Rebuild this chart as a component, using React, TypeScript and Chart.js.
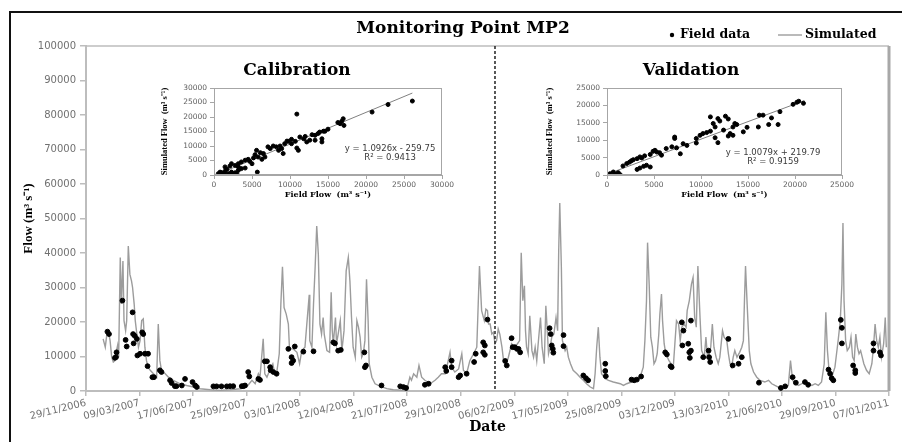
import React, { useEffect, useRef } from 'react';
import { Chart, registerables } from 'chart.js';

Chart.register(...registerables);

// ---------- main time series ----------
const mainTitle = 'Monitoring Point MP2';
const xTickLabels = [
  '29/11/2006', '09/03/2007', '17/06/2007', '25/09/2007', '03/01/2008', '12/04/2008',
  '21/07/2008', '29/10/2008', '06/02/2009', '17/05/2009', '25/08/2009', '03/12/2009',
  '13/03/2010', '21/06/2010', '29/09/2010', '07/01/2011',
];
const daysPerTick = 100; // tick labels are 100 days apart, day 0 = 29/11/2006
const splitDay = 764; // 01/01/2009 : calibration | validation

// simulated flow (day since 29/11/2006, m3/s)
const simDay = [
  32, 36, 39, 42, 45, 48, 51, 54, 57, 59, 61, 64, 66, 69, 71, 74, 76, 79, 82, 85, 87, 90, 92, 95, 98,
  101, 104, 107, 110, 113, 116, 120, 126, 132, 135, 138, 141, 148, 154, 163, 176, 188, 201, 213, 232,
  250, 269, 288, 300, 310, 316, 322, 325, 331, 334, 338, 344, 349, 352, 356, 361, 364, 367, 370, 374,
  378, 380, 382, 387, 394, 399, 403, 409, 413, 417, 418, 422, 425, 428, 431, 434, 437, 440, 443, 445,
  450, 455, 458, 460, 462, 466, 468, 471, 475, 478, 482, 486, 490, 493, 496, 499, 503, 506, 509, 512,
  515, 518, 521, 524, 527, 529, 534, 540, 549, 562, 574, 593, 599, 602, 605, 608, 612, 618, 622, 627,
  633, 643, 652, 658, 664, 671, 674, 680, 683, 689, 696, 702, 705, 711, 717, 724, 730, 735, 739, 744,
  747, 750, 752, 755, 758, 761, 764, 767, 770, 773, 777, 780, 785, 789, 795, 801, 806, 810, 813, 816,
  819, 821, 823, 826, 829, 833, 836, 839, 842, 846, 849, 852, 856, 859, 862, 864, 867, 870, 874, 878,
  881, 883, 885, 888, 890, 895, 898, 901, 905, 910, 917, 923, 929, 935, 942, 948, 951, 954, 957, 960,
  963, 970, 976, 985, 998, 1004, 1010, 1019, 1029, 1035, 1041, 1044, 1047, 1049, 1052, 1055, 1058,
  1061, 1064, 1067, 1070, 1072, 1075, 1077, 1080, 1083, 1086, 1089, 1093, 1097, 1100, 1103, 1107,
  1110, 1113, 1117, 1121, 1123, 1127, 1131, 1134, 1137, 1140, 1143, 1147, 1150, 1155, 1158, 1161,
  1164, 1167, 1170, 1173, 1177, 1181, 1184, 1189, 1192, 1197, 1200, 1203, 1206, 1209, 1212, 1216,
  1221, 1225, 1228, 1230, 1232, 1235, 1239, 1242, 1247, 1253, 1259, 1268, 1275, 1281, 1287, 1293,
  1300, 1306, 1312, 1316, 1320, 1325, 1331, 1337, 1343, 1349, 1356, 1362, 1368, 1374, 1379, 1382,
  1385, 1388, 1393, 1399, 1402, 1405, 1409, 1412, 1414, 1416, 1419, 1422, 1426, 1429, 1432, 1435,
  1438, 1441, 1444, 1447, 1450, 1453, 1458, 1463, 1468, 1471, 1474, 1477, 1480, 1483, 1486, 1490,
  1493, 1495,
];
const simFlow = [
  15100, 12700, 16500, 17000, 14600, 9800, 8400, 8800, 11700, 13200, 9800, 38700, 25200, 37700, 20400,
  17500, 20400, 42000, 33800, 31900, 30000, 25200, 20400, 16500, 12700,
  14600, 20400, 20900, 12700, 8800, 6900, 6000, 5000, 4000, 19400, 8800, 6000, 5000, 4000, 3100, 2100,
  1600, 1150, 670, 380,
  190, 380, 670, 1150, 3100, 2100, 5000, 4000, 15100, 5000, 4000, 6400, 7900, 5500, 5000, 10800, 25200,
  36000, 24200, 22300,
  19400, 12700, 12200, 12200, 11200, 7900, 11700, 12700, 20400, 27900, 14600, 12700, 25200, 35800, 47800,
  39600, 19400, 16500, 21300, 16500,
  11700, 11200, 28600, 17500, 13700, 21300, 13700, 16500, 20400, 11700, 17500, 34800, 38700, 31900, 21300,
  12700, 9800, 20400, 18500, 15600,
  9800, 10800, 14600, 32400, 20400, 7900, 4000, 2100, 1400, 670, 380, 190, 50, 2100, 4000, 3100, 5000,
  4000, 7400, 4000,
  3100, 2100, 3100, 4000, 5000, 5000, 6900, 11200, 6900, 5500, 6400, 10800, 6000, 5000, 8800, 10800, 12700,
  36200, 23300, 20400,
  23700, 23300, 19400, 19400, 16500, 17000, 13700, 14600, 18000, 16500, 12700, 8800, 7900, 9800, 13700,
  12700, 13700, 14600, 40100, 26200,
  30500, 17500, 12700, 10800, 21800, 11700, 9800, 12700, 8800, 16100, 21300, 12700, 7900, 24700, 16500,
  10800, 12700, 15600, 16500, 21300,
  17500, 40600, 54500, 35800, 14600, 11700, 12700, 9800, 7900, 6000, 5000, 4000, 3100, 2100, 1150, 670,
  5000, 12700, 18500, 9800,
  5000, 3600, 3100, 2600, 2100, 1600, 2100, 2600, 3100, 4000, 6900, 14600, 26200, 43000, 31000, 15600,
  12700,
  7900, 8800, 10800, 16500, 22300, 28100, 20400, 13700, 10800, 9800, 8800, 7900, 6900, 13700, 20400, 19400,
  14600, 18500, 19400, 18500, 23300, 26200, 31000, 32900, 21300, 18500, 36200, 21300, 11700, 9800, 15600,
  9800,
  10800, 12700, 19400, 12700, 9800, 7900, 9800, 17500, 15600, 14600, 10800, 7900, 6900, 9800, 11700, 9800,
  11200, 12700, 14600, 26200, 36200, 25200, 11700, 7900, 5500, 4000, 3100, 2600, 3100, 2100, 1600, 1150,
  670, 1150, 1600, 8800, 3100, 2100, 1600, 2100, 2600, 2100, 1600, 2100, 1600, 2600, 7900, 22800,
  11700, 6000, 4000, 6900, 10800, 14600, 20400, 31000, 48700, 26200, 14600, 11700, 12700, 15600, 9800, 8800,
  16500, 12700, 10800, 11700, 9800, 7900, 6000, 5000, 7900, 12700, 19400, 14600, 12700, 15600, 9800, 13700,
  21300, 12700,
];

// field data (day since 29/11/2006, m3/s)
const fieldDay = [
  40, 43, 54, 56, 57, 68, 74, 76, 87, 88, 89, 91, 95, 96, 101, 105, 107, 110, 115, 116, 124, 127, 138, 141,
  157, 160, 166, 169, 179, 185, 199, 204, 207, 238, 244, 253, 263, 269, 275, 291, 294, 297, 303, 305, 322,
  325, 334, 338, 344, 345, 350, 356, 378, 384, 384, 387, 390, 406, 425, 462, 465, 471, 476, 520, 521, 523,
  552, 587, 593, 598, 633, 640, 671, 673, 683, 683, 696, 699, 711, 725, 728, 742, 742, 745, 745, 750,
  783, 786, 795, 797, 801, 805, 808, 811, 866, 868, 870, 872, 873, 892, 892, 929, 934, 938, 970, 970, 971,
  1019, 1024, 1029, 1037, 1082, 1085, 1092, 1094, 1113, 1114, 1116, 1125, 1127, 1128, 1130, 1130, 1153,
  1163, 1164, 1166, 1200, 1208, 1219, 1225, 1257, 1298, 1306, 1320, 1326, 1343, 1349, 1387, 1390, 1393,
  1396, 1410, 1412, 1412, 1433, 1437, 1437, 1471, 1471, 1483, 1485,
];
const fieldFlow = [
  17200, 16500, 9600, 9800, 11200, 26200, 14800, 12900, 22800, 16500, 13800, 16000, 15100, 10300, 10800,
  17000, 16500, 10800, 7200, 10800, 4000, 4000, 6000, 5500,
  3100, 2300, 1400, 1400, 1600, 3500, 2600, 1600, 1150, 1350, 1350, 1350, 1350, 1400, 1400, 1400, 1400,
  1600, 5500, 4200, 3500,
  3200, 8600, 8600, 6900, 6000, 5500, 5000, 12200, 9800, 8100, 8800, 12900, 11400, 11500, 14100, 13800,
  11700, 11900, 11200, 6900, 7400,
  1600, 1350, 1150, 870, 1800, 2100, 6900, 5800, 8800, 6900, 4000, 4500, 5000, 8400, 10800, 14100, 11200,
  13200, 10500, 20700,
  8700, 7400, 15300, 12700, 12700, 12200, 12200, 11200, 18200, 16500, 13200, 12200, 11100, 16200, 13000,
  4500, 3700, 3100, 7900, 5800, 4300,
  3300, 3100, 3300, 4200, 11200, 10600, 7200, 6900, 19900, 13200, 17500, 13700, 11200, 9600, 20400, 11700,
  9800,
  11700, 9800, 8400, 15100, 7400, 7900, 9800, 2400, 870, 1350, 4000, 2400, 2600, 1800, 6200, 5000, 3700,
  3100, 20600, 18300, 13800, 7400, 6000, 5200, 13800, 11700, 11200, 10300,
];

// ---------- calibration scatter (field, simulated) ----------
const calField = [
  10900, 20800, 22900, 26100, 17000, 16800, 16600, 16300, 17100, 15000, 13900, 14600, 14200, 14200, 13300,
  12900, 12000, 11800, 11300, 12200, 12600, 10900, 11100, 10200, 9800, 9600, 9300, 8700, 8200, 8900, 9100,
  8500, 7400, 5600, 5400, 6100, 6500, 5800, 6700, 6300, 5200, 4500, 4100, 3600, 3200, 2800, 2300, 2100,
  3200, 3600, 4100, 4700, 5000, 5700, 570, 1000, 1450, 1200, 1900, 2300, 2800, 1700, 800, 1400, 2100, 2500,
  3000, 3200, 1450, 7100, 7800, 10200, 10700, 13300, 13700, 14400,
];
const calSim = [
  21000, 21700, 24300, 25500, 19400, 18500, 17700, 18100, 17100, 15800, 14800, 15100, 12500, 11400, 12000,
  13900, 13300, 12500, 13100, 11400, 12000, 9300, 8500, 12300, 11600, 11700, 10800, 10000, 9700, 9100, 7400,
  8500, 9100, 8500, 7000, 7700, 7400, 6200, 6200, 5400, 5900, 5400, 5100, 4500, 3900, 3300, 3900, 3100,
  2800, 2200, 2400, 4700, 3900, 1000, 460, 800, 1300, 115, 460, 1000, 800, 2000, 1000, 500, 100, 250,
  460, 1600, 2800, 9700, 10000, 10800, 11600, 13700, 14300, 15100,
];
const calSlope = 1.0926;
const calIntercept = -259.75;
const calFitRange = [500, 26100];
const calEquation = 'y = 1.0926x - 259.75';
const calR2 = 'R² = 0.9413';

// ---------- validation scatter (field, simulated) ----------
const valField = [
  20400, 20200, 20900, 19800, 18400, 17500, 17200, 18200, 16200, 16600, 16100, 14900, 14500, 11000, 11800,
  12000, 12600, 12900, 11300, 11500, 13600, 13400, 13800, 13100, 12900, 13400, 11800, 11500, 9900, 10200,
  10600, 9500, 9500, 12400, 11000, 7200, 7200, 7400, 7800, 8500, 8100, 6300, 6900, 5600, 5800, 4600, 4000,
  3500, 3200, 2800, 2400, 2100, 1700, 4200, 3900, 3500, 3200, 4600, 320, 670, 1200, 1400, 1000, 850, 5100,
  5300, 4900, 2600, 3700,
];
const valSim = [
  21200, 20900, 20600, 20300, 18200, 16400, 14500, 14500, 17200, 17200, 13800, 13700, 12400, 16700, 16200,
  15500, 16900, 16100, 14800, 13800, 14800, 13800, 14500, 11900, 11200, 11400, 9300, 10700, 11400, 11900,
  12200, 10500, 9200, 12900, 12600, 10900, 10500, 7800, 6100, 8500, 9000, 7600, 8100, 6400, 5700, 5900, 5500,
  5200, 4700, 4400, 3700, 3300, 2600, 2800, 2500, 2000, 1600, 2300, 380, 860, 670, 100, 290, 100, 7100,
  6600, 6800, 4100, 4900,
];
const valSlope = 1.0079;
const valIntercept = 219.79;
const valFitRange = [320, 21000];
const valEquation = 'y = 1.0079x + 219.79';
const valR2 = 'R² = 0.9159';

// ---------- styles ----------
const tickColor = '#707070';
const axisColor = '#bdbdbd';
const simColor = '#9c9c9c';

function MainChart() {
  const ref = useRef<HTMLCanvasElement>(null);
  useEffect(() => {
    const sim = simDay.map((d, i) => ({ x: d, y: simFlow[i] }));
    const field = fieldDay.map((d, i) => ({ x: d, y: fieldFlow[i] }));

    const framePlugin = {
      id: 'frameBox',
      beforeDatasetsDraw(chart: any) {
        const { ctx, chartArea: a } = chart;
        ctx.save();
        ctx.strokeStyle = axisColor;
        ctx.lineWidth = 1.5;
        ctx.beginPath();
        ctx.moveTo(a.left, a.top);
        ctx.lineTo(a.right, a.top);
        ctx.stroke();
        ctx.strokeStyle = '#a8a8a8';
        ctx.lineWidth = 3;
        ctx.beginPath();
        ctx.moveTo(a.right, a.top);
        ctx.lineTo(a.right, a.bottom);
        ctx.stroke();
        ctx.restore();
      },
    };
    const splitPlugin = {
      id: 'splitLine',
      afterDatasetsDraw(chart: any) {
        const { ctx, chartArea: a, scales } = chart;
        const x = scales.x.getPixelForValue(splitDay);
        ctx.save();
        ctx.strokeStyle = '#222';
        ctx.lineWidth = 1.5;
        ctx.setLineDash([3, 2]);
        ctx.beginPath();
        ctx.moveTo(x, a.top);
        ctx.lineTo(x, a.bottom);
        ctx.stroke();
        ctx.restore();
      },
    };
    const headerPlugin = {
      id: 'header',
      afterDraw(chart: any) {
        const { ctx } = chart;
        ctx.save();
        ctx.fillStyle = '#000';
        ctx.textBaseline = 'middle';
        ctx.textAlign = 'center';
        ctx.font = 'bold 17px "DejaVu Serif"';
        ctx.fillText(mainTitle, 463, 29);
        ctx.textAlign = 'left';
        ctx.font = 'bold 12.5px "DejaVu Serif"';
        ctx.beginPath();
        ctx.arc(672, 35, 2.2, 0, Math.PI * 2);
        ctx.fill();
        ctx.fillText(chart.data.datasets[0].label, 680, 35);
        ctx.strokeStyle = simColor;
        ctx.lineWidth = 1.4;
        ctx.beginPath();
        ctx.moveTo(778, 35);
        ctx.lineTo(802, 35);
        ctx.stroke();
        ctx.fillText(chart.data.datasets[1].label, 805, 35);
        ctx.restore();
      },
    };

    const chart = new Chart(ref.current as HTMLCanvasElement, {
      type: 'scatter',
      data: {
        datasets: [
          {
            label: 'Field data',
            data: field,
            backgroundColor: '#000',
            borderColor: '#000',
            pointRadius: 2.4,
            pointHoverRadius: 2.4,
            order: 0,
          },
          {
            label: 'Simulated',
            type: 'line',
            data: sim,
            borderColor: simColor,
            borderWidth: 1.4,
            pointRadius: 0,
            fill: false,
            tension: 0,
            order: 1,
          } as any,
        ],
      },
      options: {
        responsive: false,
        animation: false,
        events: [],
        layout: { padding: { left: 0, top: 46, right: 13, bottom: 0 } },
        plugins: { legend: { display: false }, title: { display: false }, tooltip: { enabled: false } },
        scales: {
          x: {
            type: 'linear',
            min: 0,
            max: daysPerTick * (xTickLabels.length - 1),
            afterFit: (s: any) => {
              s.height = 51;
            },
            ticks: {
              stepSize: daysPerTick,
              autoSkip: false,
              minRotation: 14,
              maxRotation: 14,
              padding: 1,
              color: tickColor,
              font: { family: 'DejaVu Sans', size: 10 },
              callback: (v: any) => xTickLabels[Math.round(Number(v) / daysPerTick)] ?? '',
            },
            grid: { display: true, drawOnChartArea: false, tickLength: 5, color: axisColor, lineWidth: 1.5 },
            border: { display: true, color: axisColor, width: 2 },
            title: {
              display: true,
              text: 'Date',
              color: '#000',
              font: { family: 'DejaVu Serif', size: 14, weight: 'bold' },
              padding: { top: 0, bottom: 6 },
            },
          },
          y: {
            min: 0,
            max: 100000,
            afterFit: (s: any) => {
              s.width = 86;
            },
            ticks: {
              stepSize: 10000,
              padding: 4,
              color: tickColor,
              font: { family: 'DejaVu Sans', size: 10 },
              callback: (v: any) => String(v),
            },
            grid: { display: true, drawOnChartArea: false, tickLength: 6, color: axisColor, lineWidth: 1.5 },
            border: { display: true, color: axisColor, width: 2 },
            title: {
              display: true,
              text: 'Flow (m³ s⁻¹)',
              color: '#000',
              font: { family: 'Liberation Serif', size: 13, weight: 'bold' },
              padding: { top: 21, bottom: 0 },
            },
          },
        },
      },
      plugins: [framePlugin, splitPlugin, headerPlugin],
    });
    return () => chart.destroy();
  }, []);
  return (
    <canvas
      ref={ref}
      width={902}
      height={442}
      style={{ position: 'absolute', left: 0, top: 0, width: 902, height: 442 }}
    />
  );
}

type InsetProps = {
  left: number;
  top: number;
  width: number;
  height: number;
  axisWidth: number;
  padRight: number;
  yTitlePad: number;
  title: string;
  fieldX: number[];
  simY: number[];
  maxVal: number;
  slope: number;
  intercept: number;
  fitRange: number[];
  equation: string;
  r2: string;
  eqAt: number[];
};

function Inset(p: InsetProps) {
  const ref = useRef<HTMLCanvasElement>(null);
  useEffect(() => {
    const pts = p.fieldX.map((x, i) => ({ x, y: p.simY[i] }));
    const fit = p.fitRange.map((x) => ({ x, y: p.slope * x + p.intercept }));
    const eqPlugin = {
      id: 'eqBox',
      afterDatasetsDraw(chart: any) {
        const { ctx, chartArea: a, scales } = chart;
        ctx.save();
        ctx.strokeStyle = '#a6a6a6';
        ctx.lineWidth = 1;
        ctx.strokeRect(a.left + 0.5, a.top + 0.5, a.width - 1, a.height - 1);
        ctx.fillStyle = '#3a3a3a';
        ctx.font = '8.5px "DejaVu Sans"';
        ctx.textAlign = 'center';
        ctx.textBaseline = 'middle';
        const ex = scales.x.getPixelForValue(p.eqAt[0]);
        ctx.fillText(p.equation, ex, scales.y.getPixelForValue(p.eqAt[1]));
        ctx.fillText(p.r2, ex, scales.y.getPixelForValue(p.eqAt[2]));
        ctx.restore();
      },
    };
    const axisTicks = {
      stepSize: 5000,
      padding: 2,
      color: '#606060',
      font: { family: 'DejaVu Sans', size: 7.5 },
      callback: (v: any) => String(v),
    };
    const chart = new Chart(ref.current as HTMLCanvasElement, {
      type: 'scatter',
      data: {
        datasets: [
          {
            label: 'points',
            data: pts,
            backgroundColor: '#000',
            borderColor: '#000',
            pointRadius: 2,
            order: 0,
          },
          {
            label: 'fit',
            type: 'line',
            data: fit,
            borderColor: '#808080',
            borderWidth: 1,
            pointRadius: 0,
            fill: false,
            order: 1,
          } as any,
        ],
      },
      options: {
        responsive: false,
        animation: false,
        events: [],
        layout: { padding: { left: 0, top: 0, right: p.padRight, bottom: 0 } },
        plugins: {
          legend: { display: false },
          tooltip: { enabled: false },
          title: {
            display: true,
            text: p.title,
            color: '#000',
            font: { family: 'DejaVu Serif', size: 17, weight: 'bold' },
            padding: { top: 5.8, bottom: 6.8 },
          },
        },
        scales: {
          x: {
            type: 'linear',
            min: 0,
            max: p.maxVal,
            afterFit: (s: any) => {
              s.height = 30;
            },
            ticks: axisTicks,
            grid: { display: true, drawOnChartArea: false, tickLength: 4, color: '#a6a6a6' },
            border: { display: true, color: '#a6a6a6', width: 1 },
            title: {
              display: true,
              text: 'Field Flow  (m³ s⁻¹)',
              color: '#000',
              font: { family: 'DejaVu Serif', size: 8, weight: 'bold' },
              padding: { top: 0, bottom: 5.2 },
            },
          },
          y: {
            min: 0,
            max: p.maxVal,
            afterFit: (s: any) => {
              s.width = p.axisWidth;
            },
            ticks: { ...axisTicks, padding: 3 },
            grid: { display: true, drawOnChartArea: false, tickLength: 4, color: '#a6a6a6' },
            border: { display: true, color: '#a6a6a6', width: 1 },
            title: {
              display: true,
              text: 'Simulated Flow  (m³ s⁻¹)',
              color: '#000',
              font: { family: 'Liberation Serif', size: 8.5, weight: 'bold' },
              padding: { top: p.yTitlePad, bottom: 0 },
            },
          },
        },
      },
      plugins: [eqPlugin],
    });
    return () => chart.destroy();
  }, []);
  return (
    <canvas
      ref={ref}
      width={p.width}
      height={p.height}
      style={{ position: 'absolute', left: p.left, top: p.top, width: p.width, height: p.height }}
    />
  );
}

export default function App() {
  return (
    <div
      style={{
        position: 'fixed',
        left: 0,
        top: 0,
        width: 902,
        height: 442,
        background: '#fff',
        overflow: 'hidden',
      }}
    >
      <div
        style={{
          position: 'absolute',
          left: 9,
          top: 11,
          width: 920,
          height: 460,
          borderLeft: '2px solid #111',
          borderTop: '2px solid #111',
        }}
      />
      <MainChart />
      <Inset
        left={152}
        top={55}
        width={310}
        height={150}
        axisWidth={62}
        padRight={20}
        yTitlePad={7.9}
        title="Calibration"
        fieldX={calField}
        simY={calSim}
        maxVal={30000}
        slope={calSlope}
        intercept={calIntercept}
        fitRange={calFitRange}
        equation={calEquation}
        r2={calR2}
        eqAt={[23160, 8970, 5860]}
      />
      <Inset
        left={540}
        top={55}
        width={324}
        height={150}
        axisWidth={67}
        padRight={22}
        yTitlePad={4.9}
        title="Validation"
        fieldX={valField}
        simY={valSim}
        maxVal={25000}
        slope={valSlope}
        intercept={valIntercept}
        fitRange={valFitRange}
        equation={valEquation}
        r2={valR2}
        eqAt={[17660, 6320, 3740]}
      />
    </div>
  );
}
